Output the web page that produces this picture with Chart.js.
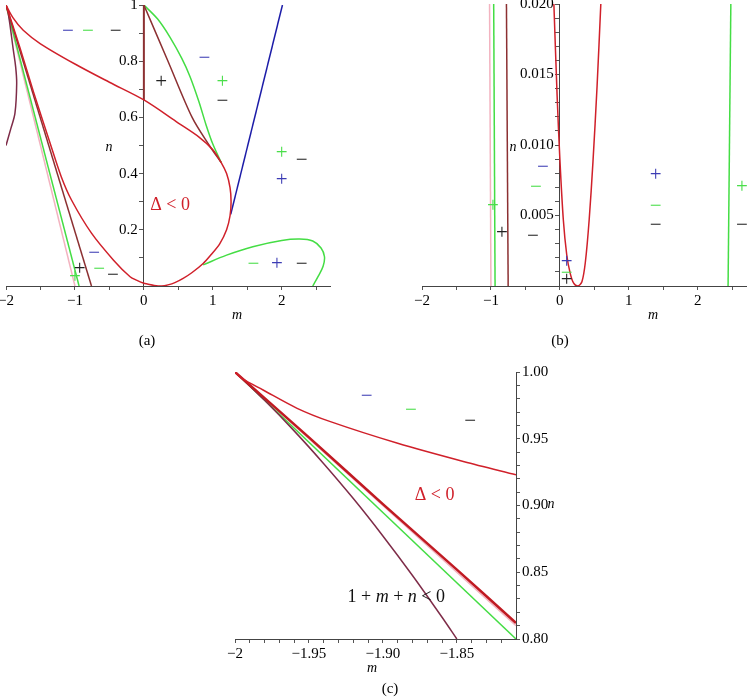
<!DOCTYPE html>
<html>
<head>
<meta charset="utf-8">
<script src="https://cdn.jsdelivr.net/npm/chart.js@4.4.1/dist/chart.umd.min.js"></script>
<style>
  body { margin: 0; background: #fff; }
  #wrap { position: relative; width: 748px; height: 699px; overflow: hidden; background: #fff; }
  canvas { position: absolute; }
  .lbl { position: absolute; font-family: "Liberation Serif", serif; font-size: 15px; color: #000;
         transform: translate(-50%, -50%); white-space: nowrap; }
  .it { font-style: italic; font-size: 14px; }
</style>
</head>
<body>
<div id="wrap">
  <canvas id="chartA" width="340" height="312" style="left:0;top:0"></canvas>
  <canvas id="chartB" width="348" height="312" style="left:400px;top:0"></canvas>
  <canvas id="chartC" width="341" height="314" style="left:225px;top:355px"></canvas>
  <div class="lbl it" style="left:237px;top:315px">m</div>
  <div class="lbl it" style="left:109px;top:147px">n</div>
  <div class="lbl" style="left:147px;top:340px">(a)</div>
  <div class="lbl it" style="left:653px;top:315px">m</div>
  <div class="lbl it" style="left:513px;top:147px">n</div>
  <div class="lbl" style="left:560px;top:340px">(b)</div>
  <div class="lbl it" style="left:372px;top:668px">m</div>
  <div class="lbl it" style="left:551px;top:504px">n</div>
  <div class="lbl" style="left:390px;top:688px">(c)</div>
</div>
<script>
// ---------- panel (a) ----------
const redA_m = [-2, -1.9, -1.75, -1.5, -1.0, -0.5, 0, 0.5, 0.8, 1.0, 1.12, 1.2, 1.25, 1.265, 1.25, 1.2, 1.1, 0.97, 0.86, 0.7, 0.57, 0.45, 0.35, 0.26, 0.15, 0.05, 0, -0.1, -0.2, -0.44, -0.76, -1.05, -1.2, -1.36, -1.6, -1.8, -2];
const redA_n = [1, 0.955, 0.91, 0.862, 0.79, 0.725, 0.662, 0.58, 0.53, 0.485, 0.44, 0.4, 0.35, 0.3, 0.25, 0.2, 0.15, 0.11, 0.08, 0.048, 0.027, 0.012, 0.004, 0, 0.002, 0.007, 0.0095, 0.02, 0.033, 0.092, 0.188, 0.306, 0.39, 0.508, 0.69, 0.85, 1];
const brownA1_m = [-2, -0.76];
const brownA1_n = [1, 0];
const brownA2_m = [0, 0.35, 0.7, 0.95, 1.12];
const brownA2_n = [1, 0.8, 0.6, 0.5, 0.44];
const brownA3_m = [0, 0];
const brownA3_n = [1, 0.662];
const cuspA_m = [-2, -1.93, -1.87, -1.845, -1.86, -1.894, -1.967, -2];
const cuspA_n = [0.5, 0.56, 0.615, 0.721, 0.78, 0.84, 0.97, 1];
const greenA1_m = [-2, -0.94];
const greenA1_n = [1, 0];
const greenA2_m = [0, 0.2, 0.38, 0.55, 0.67, 0.8, 0.9, 1.0, 1.12];
const greenA2_n = [1, 0.95, 0.885, 0.81, 0.745, 0.655, 0.575, 0.505, 0.44];
const greenA3_m = [0.86, 1.2, 1.58, 2.0, 2.26, 2.45, 2.57, 2.62, 2.6, 2.53, 2.45];
const greenA3_n = [0.075, 0.11, 0.14, 0.162, 0.167, 0.16, 0.135, 0.104, 0.07, 0.035, 0];
const pinkA_m = [-2, -1];
const pinkA_n = [1, 0];
const blueA_m = [1.26, 2.01];
const blueA_n = [0.255, 1];
const ticksA_m = [-2, -1.5, -1, -0.5, 0, 0.5, 1, 1.5, 2, 2.5];
const labelsA_m = ['−2', '', '−1', '', '0', '', '1', '', '2', ''];
const ticksA_n = [0.1, 0.2, 0.3, 0.4, 0.5, 0.6, 0.7, 0.8, 0.9, 1];
const labelsA_n = ['', '0.2', '', '0.4', '', '0.6', '', '0.8', '', '1'];

// ---------- panel (b) ----------
const redB_m = [-0.087, -0.04, 0, 0.05, 0.1, 0.15, 0.2, 0.26, 0.32, 0.37, 0.425, 0.48, 0.54, 0.594];
const redB_n = [0.02, 0.0135, 0.009, 0.0047, 0.0022, 0.0009, 0.0002, 0, 0.0003, 0.0017, 0.0047, 0.0088, 0.0142, 0.02];
const pinkB_m = [-1, -1.02];
const pinkB_n = [0, 0.02];
const greenB1_m = [-0.94, -0.96];
const greenB1_n = [0, 0.02];
const brownB_m = [-0.75, -0.775];
const brownB_n = [0, 0.02];
const greenB2_m = [2.44, 2.48];
const greenB2_n = [0, 0.02];
const ticksB_m = [-2, -1.5, -1, -0.5, 0, 0.5, 1, 1.5, 2, 2.5];
const labelsB_m = ['−2', '', '−1', '', '0', '', '1', '', '2', ''];
const ticksB_n = [0.001, 0.002, 0.003, 0.004, 0.005, 0.006, 0.007, 0.008, 0.009, 0.010,
                  0.011, 0.012, 0.013, 0.014, 0.015, 0.016, 0.017, 0.018, 0.019, 0.020];
const labelsB_n = ['', '', '', '', '0.005', '', '', '', '', '0.010',
                   '', '', '', '', '0.015', '', '', '', '', '0.020'];

// ---------- panel (c) ----------
const redC1_m = [-2, -1.995, -1.981, -1.958, -1.9355, -1.89, -1.845, -1.81];
const redC1_n = [1, 0.995, 0.9865, 0.9728, 0.9628, 0.9466, 0.9328, 0.923];
const redC2_m = [-2, -1.95, -1.9, -1.85, -1.81];
const redC2_n = [1, 0.951, 0.901, 0.852, 0.812];
const greenC_m = [-2, -1.81];
const greenC_n = [1, 0.8];
const pinkC_m = [-2, -1.81];
const pinkC_n = [1, 0.81];
const cuspC_m = [-2, -1.98, -1.96, -1.94, -1.92, -1.9, -1.88, -1.86, -1.85];
const cuspC_n = [1, 0.9788, 0.9559, 0.9313, 0.9052, 0.8772, 0.8476, 0.8163, 0.8];
const ticksC_m = [-2, -1.99, -1.98, -1.97, -1.96, -1.95, -1.94, -1.93, -1.92, -1.91, -1.9,
                  -1.89, -1.88, -1.87, -1.86, -1.85, -1.84, -1.83, -1.82];
const labelsC_m = ['−2', '', '', '', '', '−1.95', '', '', '', '', '−1.90',
                   '', '', '', '', '−1.85', '', '', ''];
const ticksC_n = [0.8, 0.81, 0.82, 0.83, 0.84, 0.85, 0.86, 0.87, 0.88, 0.89, 0.9,
                  0.91, 0.92, 0.93, 0.94, 0.95, 0.96, 0.97, 0.98, 0.99, 1];
const labelsC_n = ['0.80', '', '', '', '', '0.85', '', '', '', '', '0.90',
                   '', '', '', '', '0.95', '', '', '', '', '1.00'];

const RED = '#d0202a', BROWN = '#8c3032', CUSP = '#7e2c48', GREEN = '#44dd44',
      PINK = '#f3b3c0', BLUE = '#1c1ca8';
const SBLUE = '#3c3cb4', SGREEN = '#4ade4a', SBLACK = '#222';

// sign / text annotations, placed in data coordinates
const signsA = [
  ['−', -1.10, 0.907, SBLUE], ['−', -0.81, 0.907, SGREEN], ['−', -0.41, 0.907, SBLACK],
  ['−', 0.88, 0.811, SBLUE], ['+', 0.25, 0.726, SBLACK], ['+', 1.14, 0.726, SGREEN],
  ['−', 1.14, 0.658, SBLACK], ['+', 2.0, 0.473, SGREEN], ['−', 2.29, 0.448, SBLACK],
  ['+', 2.0, 0.377, SBLUE], ['Δ < 0', 0.38, 0.288, RED],
  ['−', -0.72, 0.117, SBLUE], ['+', -0.93, 0.06, SBLACK], ['−', -0.65, 0.06, SGREEN],
  ['+', -1.0, 0.032, SGREEN], ['−', -0.45, 0.036, SBLACK],
  ['−', 1.59, 0.075, SGREEN], ['+', 1.93, 0.075, SBLUE], ['−', 2.29, 0.075, SBLACK]
];
const signsB = [
  ['−', -0.246, 0.00844, SBLUE], ['−', -0.348, 0.00702, SGREEN], ['−', -0.391, 0.00348, SBLACK],
  ['+', -0.971, 0.00567, SGREEN], ['+', -0.841, 0.00369, SBLACK],
  ['+', 0.10, 0.0017, SBLUE], ['−', 0.10, 0.00092, SGREEN], ['+', 0.10, 0.0004, SBLACK],
  ['+', 1.39, 0.00787, SBLUE], ['−', 1.39, 0.00567, SGREEN], ['−', 1.39, 0.00426, SBLACK],
  ['+', 2.64, 0.00702, SGREEN], ['−', 2.64, 0.00426, SBLACK]
];
const signsC = [
  ['−', -1.911, 0.982, SBLUE], ['−', -1.881, 0.971, SGREEN], ['−', -1.841, 0.963, SBLACK],
  ['Δ < 0', -1.865, 0.908, RED],
  [[['1 + ', 0], ['m', 1], [' + ', 0], ['n', 1], [' < 0', 0]], -1.891, 0.831, '#111']
];

function signs(items) {
  return {
    id: 'signs',
    afterDatasetsDraw(chart) {
      const ctx = chart.ctx, sx = chart.scales.x, sy = chart.scales.y;
      ctx.save();
      ctx.textBaseline = 'middle';
      ctx.textAlign = 'left';
      items.forEach(([t, m, n, color]) => {
        const single = !Array.isArray(t);
        const parts = single ? [[t, 0]] : t;
        const size = (single && t.length === 1) ? 21 : 18;
        const fontOf = it => (it ? 'italic ' : '') + size + 'px "Liberation Serif"';
        let w = 0;
        parts.forEach(([s, it]) => { ctx.font = fontOf(it); w += ctx.measureText(s).width; });
        let px = sx.getPixelForValue(m) - w / 2;
        const py = sy.getPixelForValue(n);
        ctx.fillStyle = color;
        parts.forEach(([s, it]) => {
          ctx.font = fontOf(it);
          ctx.fillText(s, px, py);
          px += ctx.measureText(s).width;
        });
      });
      ctx.restore();
    }
  };
}

function curve(ms, ns, color, width, tension) {
  return {
    data: ms.map((m, i) => ({ x: m, y: ns[i] })),
    showLine: true,
    borderColor: color,
    borderWidth: width,
    pointRadius: 0,
    fill: false,
    tension: tension
  };
}

const tickFont = { family: 'Liberation Serif', size: 15 };

function axis(ticks, labels, extra) {
  return Object.assign({
    type: 'linear',
    grid: { drawOnChartArea: false, tickLength: 4, color: '#555' },
    border: { color: '#444', width: 1 },
    ticks: {
      autoSkip: false, maxRotation: 0, color: '#000', font: tickFont, padding: 2,
      callback: (v, i) => labels[i]
    },
    afterBuildTicks: s => { s.ticks = ticks.map(v => ({ value: v })); }
  }, extra);
}

function fitX(h) {
  return s => { s.height = h; s.paddingLeft = 0; s.paddingRight = 0; };
}
function fitY(w) {
  return s => { if (w) s.width = w; s.paddingTop = 0; s.paddingBottom = 0; };
}
// a y axis placed at m = 0 puts its labels right on the axis line; move them left of the ticks
function shiftLabels(dx) {
  return s => {
    if (s._shifted) return;
    const orig = s._computeLabelItems.bind(s);
    s._computeLabelItems = ca => orig(ca).map(it => {
      it.options.translation = [it.options.translation[0] + dx, it.options.translation[1]];
      return it;
    });
    s._shifted = true;
  };
}

function makeChart(id, datasets, scales, padding, items) {
  return new Chart(document.getElementById(id), {
    type: 'scatter',
    data: { datasets: datasets },
    options: {
      responsive: false,
      animation: false,
      devicePixelRatio: 1,
      layout: { padding: padding },
      scales: scales,
      plugins: { legend: { display: false }, tooltip: { enabled: false } }
    },
    plugins: [signs(items)]
  });
}

makeChart('chartA', [
  curve(redA_m, redA_n, RED, 1.5, 0.3),
  curve(brownA1_m, brownA1_n, BROWN, 1.5, 0),
  curve(brownA2_m, brownA2_n, BROWN, 1.5, 0.3),
  curve(brownA3_m, brownA3_n, BROWN, 2, 0),
  curve(cuspA_m, cuspA_n, CUSP, 1.5, 0.35),
  curve(greenA1_m, greenA1_n, GREEN, 1.5, 0),
  curve(greenA2_m, greenA2_n, GREEN, 1.5, 0.3),
  curve(greenA3_m, greenA3_n, GREEN, 1.5, 0.35),
  curve(blueA_m, blueA_n, BLUE, 1.5, 0),
  curve(pinkA_m, pinkA_n, PINK, 1.5, 0)
], {
  x: axis(ticksA_m, labelsA_m, { min: -2, max: 2.7, position: 'bottom', afterFit: fitX(26) }),
  y: axis(ticksA_n, labelsA_n, { min: 0, max: 1, position: { x: 0 }, afterFit: fitY(0),
                                 afterUpdate: shiftLabels(-6) })
}, { left: 6, right: 10, top: 5, bottom: 0 }, signsA);

makeChart('chartB', [
  curve(redB_m, redB_n, RED, 1.5, 0.3),
  curve(brownB_m, brownB_n, BROWN, 1.5, 0),
  curve(greenB1_m, greenB1_n, GREEN, 1.5, 0),
  curve(greenB2_m, greenB2_n, GREEN, 1.5, 0),
  curve(pinkB_m, pinkB_n, PINK, 1.5, 0)
], {
  x: axis(ticksB_m, labelsB_m, { min: -2, max: 2.7, position: 'bottom', afterFit: fitX(26) }),
  y: axis(ticksB_n, labelsB_n, { min: 0, max: 0.02, position: { x: 0 }, afterFit: fitY(0),
                                 afterUpdate: shiftLabels(-6) })
}, { left: 22, right: 2, top: 4, bottom: 0 }, signsB);

makeChart('chartC', [
  curve(redC1_m, redC1_n, RED, 1.5, 0.3),
  curve(redC2_m, redC2_n, '#c01a22', 2.5, 0.2),
  curve(cuspC_m, cuspC_n, CUSP, 1.5, 0.3),
  curve(greenC_m, greenC_n, GREEN, 1.5, 0),
  curve(pinkC_m, pinkC_n, PINK, 1.5, 0)
], {
  x: axis(ticksC_m, labelsC_m, { min: -2, max: -1.81, position: 'bottom', afterFit: fitX(30) }),
  y: axis(ticksC_n, labelsC_n, { min: 0.8, max: 1, position: 'right', afterFit: fitY(50) })
}, { left: 10, right: 0, top: 17, bottom: 0 }, signsC);
</script>
</body>
</html>
